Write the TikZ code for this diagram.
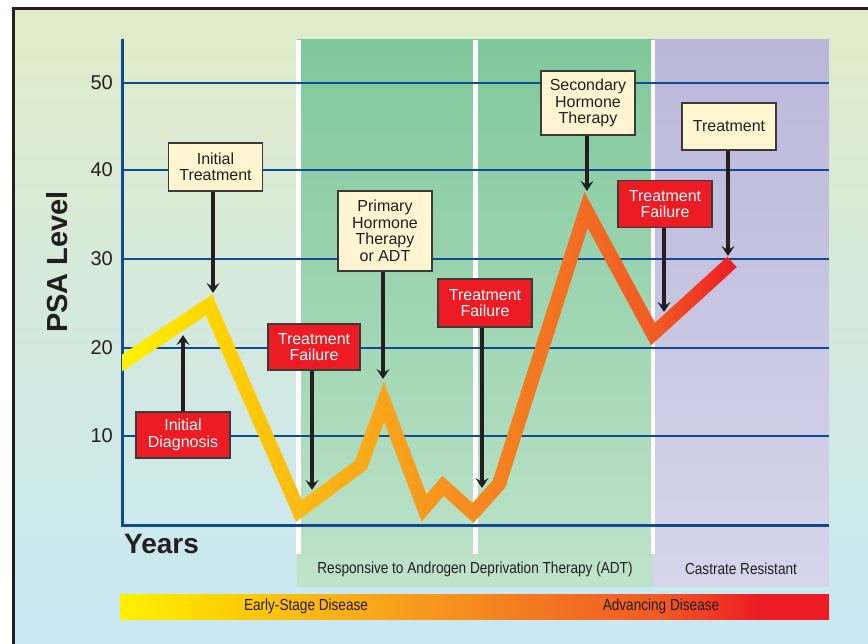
\documentclass[tikz,border=0pt]{standalone}
\usepackage{fontspec}
\setmainfont{Liberation Sans}
\newfontfamily\condfont[FakeStretch=0.85]{Liberation Sans}
\usetikzlibrary{arrows.meta}

\definecolor{bgtop}{HTML}{E0EBC8}
\definecolor{bgbot}{HTML}{C8E8F4}
\definecolor{grtop}{HTML}{7FC89B}
\definecolor{grbot}{HTML}{BFE3CA}
\definecolor{putop}{HTML}{BAB7DA}
\definecolor{pubot}{HTML}{D7D5EB}
\definecolor{gridblue}{HTML}{0F4A94}
\definecolor{boxred}{HTML}{ED1C24}
\definecolor{boxcream}{HTML}{FFF5D1}
\definecolor{boxedge}{HTML}{3A3A3A}
\definecolor{inkdark}{HTML}{231F20}
\definecolor{ga}{HTML}{FFF200}
\definecolor{gb}{HTML}{FFD400}
\definecolor{gc}{HTML}{FDBA14}
\definecolor{gd}{HTML}{F8A01C}
\definecolor{ge}{HTML}{F58220}
\definecolor{gf}{HTML}{F26A22}
\definecolor{gg}{HTML}{F15A24}
\definecolor{gh}{HTML}{ED1C24}
\definecolor{gi}{HTML}{ED1C24}

\pgfdeclarehorizontalshading{psagrad}{100bp}{color(0bp)=(ga); color(25bp)=(ga); color(31.6bp)=(gb); color(37.7bp)=(gc); color(44.7bp)=(gd); color(51.8bp)=(ge); color(58.1bp)=(gf); color(63.1bp)=(gg); color(70bp)=(gh); color(75bp)=(gi); color(100bp)=(gi)}

\newcommand\psacurve{(110,371) -- (209,305) -- (299,511) -- (361,465) -- (384,402) -- (424,508)
      -- (443,486) -- (473,513) -- (499,484) -- (586,210) -- (653,334) -- (732,262)}

\tikzset{
  gridline/.style={draw=gridblue, line width=2.5pt},
  axisline/.style={draw=gridblue, line width=3pt, line join=miter},
  ticklabel/.style={anchor=east, text=inkdark, font=\fontsize{20}{20}\selectfont, inner sep=0pt},
  basebox/.style={draw=boxedge, line width=1.3pt, align=center, inner sep=0pt,
    minimum width=94pt, font=\fontsize{16}{16.5}\selectfont},
  creambox/.style={basebox, fill=boxcream, text=inkdark},
  redbox/.style={basebox, fill=boxred, text=white},
  pointer/.style={draw=inkdark, line width=3.2pt,
    -{Stealth[length=10pt,width=13pt,inset=4pt]}},
  psaline/.style={line width=14pt, line join=miter, miter limit=10},
  bandlabel/.style={text=inkdark, font=\condfont\fontsize{16}{16}\selectfont, inner sep=0pt},
  barlabel/.style={text=inkdark, font=\condfont\fontsize{16}{16}\selectfont, inner sep=0pt}
}

\begin{document}
\begin{tikzpicture}[x=1pt,y=-1pt]
\useasboundingbox (0,0) rectangle (868,644);
\fill[white] (0,0) rectangle (868,644);
\shade[top color=bgtop, bottom color=bgbot] (13,9) rectangle (868,644);
\draw[inkdark, line width=3pt, line join=miter] (13,644) -- (13,9) -- (868,9);

% bands
\shade[top color=grtop, bottom color=grbot] (297,40) rectangle (653,586);
\shade[top color=putop, bottom color=pubot] (653,40) rectangle (829,586);
\fill[white] (296,40) rectangle (300.5,554);
\fill[white] (473.3,40) rectangle (477.8,554);
\fill[white] (650.8,40) rectangle (655,554);

% grid and ticks
\foreach \v/\yy in {50/83,40/170,30/259,20/348,10/436}{
  \draw[gridline] (122,\yy) -- (829,\yy);
  \node[ticklabel] (tick\v) at (113,\yy) {\v};
}
\draw[axisline] (122,39) -- (122,525) -- (829,525);

% axis titles
\node[rotate=90, text=inkdark, font=\bfseries\fontsize{29}{29}\selectfont, inner sep=0pt] (psa) at (57,262) {PSA Level};
\node[anchor=base west, text=inkdark, font=\bfseries\fontsize{28}{28}\selectfont, inner sep=0pt] (years) at (124,553) {Years};

% PSA curve with horizontal colour gradient (drawn in thin vertical strips)
\foreach \xa/\xb/\ca/\cb in {122/213/ga/gb, 213/300/gb/gc, 300/400/gc/gd, 400/500/gd/ge,
                             500/590/ge/gf, 590/660/gf/gg, 660/735/gg/gh, 735/745/gh/gh}{
  \pgfmathtruncatemacro\nn{ceil((\xb-\xa)/3)-1}
  \foreach \k in {0,...,\nn}{
    \pgfmathsetmacro\xx{\xa+3*\k}
    \pgfmathsetmacro\pp{max(0,100-100*(3*\k+1.5)/(\xb-\xa))}
    \begin{scope}
      \clip (\xx,150) rectangle ({min(\xx+3.4,\xb)},560);
      \draw[psaline, draw=\ca!\pp!\cb] \psacurve;
    \end{scope}
  }
}

% band labels
\node[bandlabel] (adt) at (475,569) {Responsive to Androgen Deprivation Therapy (ADT)};
\node[bandlabel] (crpc) at (741,569) {Castrate Resistant};

% disease bar
\shade[shading=psagrad] (120,594) rectangle (829,619);
\node[barlabel] (early) at (306,606) {Early-Stage Disease};
\node[barlabel] (adv) at (661,606) {Advancing Disease};

% arrow tips
\coordinate (tipIT) at (213,293);
\coordinate (tipID) at (183,335);
\coordinate (tipTFa) at (312,490);
\coordinate (tipPH) at (383,379);
\coordinate (tipTFb) at (482,488);
\coordinate (tipSH) at (587,191);
\coordinate (tipTFc) at (664,312);
\coordinate (tipTR) at (728,256);

% boxes
\node[creambox, minimum height=48pt] (it) at (215.5,167) {Initial\\Treatment};
\node[redbox, minimum height=46pt] (id) at (183,435) {Initial\\Diagnosis};
\node[redbox, minimum height=46pt, minimum width=92pt] (tfa) at (314,347) {Treatment\\Failure};
\node[creambox, minimum height=80pt] (ph) at (385,231) {Primary\\Hormone\\Therapy\\or ADT};
\node[redbox, minimum height=48pt] (tfb) at (485,303) {Treatment\\Failure};
\node[creambox, minimum height=64pt] (sh) at (588,103) {Secondary\\Hormone\\Therapy};
\node[redbox, minimum height=47pt] (tfc) at (665,204) {Treatment\\Failure};
\node[creambox, minimum height=47pt] (tr) at (729,126.5) {Treatment};

% pointers
\draw[pointer] (it.south -| tipIT) -- (tipIT);
\draw[pointer] (id.north -| tipID) -- (tipID);
\draw[pointer] (tfa.south -| tipTFa) -- (tipTFa);
\draw[pointer] (ph.south -| tipPH) -- (tipPH);
\draw[pointer] (tfb.south -| tipTFb) -- (tipTFb);
\draw[pointer] (sh.south -| tipSH) -- (tipSH);
\draw[pointer] (tfc.south -| tipTFc) -- (tipTFc);
\draw[pointer] (tr.south -| tipTR) -- (tipTR);
\end{tikzpicture}
\end{document}
